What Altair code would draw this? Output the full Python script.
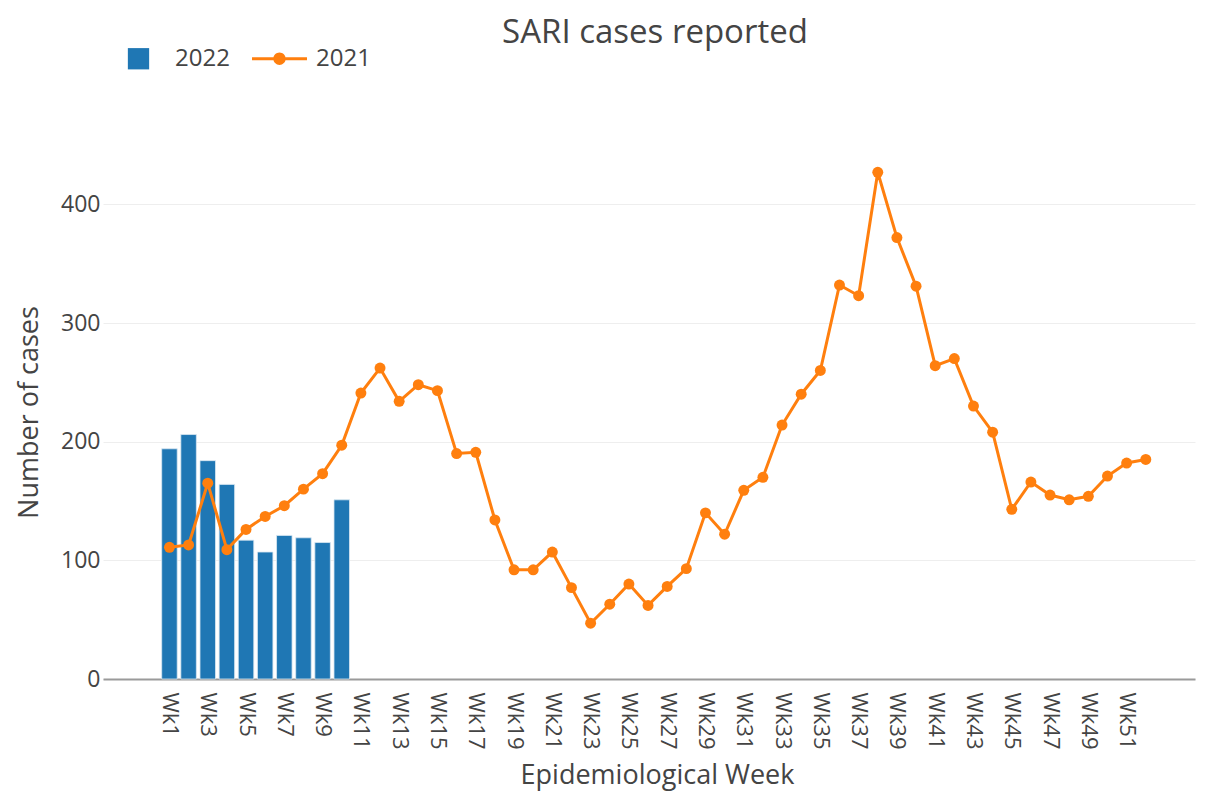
import altair as alt
import pandas as pd

# ---- data ----
weeks_2021 = list(range(1, 53))
cases_2021 = [111, 113, 165, 109, 126, 137, 146, 160, 173, 197,
              241, 262, 234, 248, 243, 190, 191, 134, 92, 92,
              107, 77, 47, 63, 80, 62, 78, 93, 140, 122,
              159, 170, 214, 240, 260, 332, 323, 427, 372, 331,
              264, 270, 230, 208, 143, 166, 155, 151, 154, 171,
              182, 185]
weeks_2022 = list(range(1, 11))
cases_2022 = [194, 206, 184, 164, 117, 107, 121, 119, 115, 151]
tick_weeks = list(range(1, 52, 2))
y_ticks = [0, 100, 200, 300, 400]
series = ["2022", "2021"]
colors = ["#1f77b4", "#ff7f0e"]

df21 = pd.DataFrame({"week": weeks_2021, "cases": cases_2021, "year": "2021"})
df22 = pd.DataFrame({"week": weeks_2022, "cases": cases_2022, "year": "2022"})
df = pd.concat([df22, df21], ignore_index=True)

FONT = "Open Sans"
TXT = "#444444"

x_scale = alt.Scale(domain=[-2.21, 54.31], nice=False, zero=False)
y_scale = alt.Scale(domain=[0, 450], nice=False)
color_scale = alt.Scale(domain=series, range=colors)

# legend glyphs: filled square, and line-with-dot built from filled pieces
SQUARE = "M-0.62,-0.62H0.62V0.62H-0.62Z"
LINEDOT = ("M-1.6,-0.09H-0.35V0.09H-1.6Z"
           "M0.35,-0.09H1.6V0.09H0.35Z"
           "M-0.36,0A0.36,0.36 0 1,1 0.36,0A0.36,0.36 0 1,1 -0.36,0Z")
shape_scale = alt.Scale(domain=series, range=[SQUARE, LINEDOT])

legend = alt.Legend(
    orient="none", legendX=18, legendY=-104, direction="horizontal",
    title=None, symbolSize=1180, labelFontSize=24, labelFont=FONT,
    labelColor=TXT, labelOffset=19, columnPadding=22,
    symbolStrokeWidth=0, symbolOpacity=1,
)

x_axis = alt.Axis(
    values=tick_weeks, labelExpr="'Wk' + datum.value", labelAngle=90,
    labelAlign="left", labelBaseline="middle", labelFontSize=22,
    labelFont=FONT, labelColor=TXT, labelPadding=13, labelOverlap=False,
    labelFlush=False, ticks=False, grid=False, domainColor="#9a9a9a",
    domainWidth=2, title="Epidemiological Week", titleFontSize=27,
    titleFont=FONT, titleFontWeight="normal", titleColor=TXT,
    titlePadding=13, titleX=554,
)
y_axis = alt.Axis(
    values=y_ticks, title="Number of cases", titleFontSize=27,
    titleFont=FONT, titleFontWeight="normal", titleColor=TXT,
    titlePadding=17, labelFontSize=23, labelFont=FONT, labelColor=TXT,
    labelPadding=3, ticks=False, domain=False, grid=True,
    gridColor="#eeeeee", gridWidth=1,
)

base = alt.Chart(df)

bars = base.transform_filter(alt.datum.year == "2022").transform_calculate(
    x0="datum.week - 0.405", x1="datum.week + 0.405"
).mark_bar(orient="vertical", stroke="#dbe8f3", strokeWidth=0.8).encode(
    x=alt.X("x0:Q", scale=x_scale, axis=x_axis),
    x2="x1:Q",
    y=alt.Y("cases:Q", scale=y_scale, axis=y_axis),
    y2=alt.datum(0),
    color=alt.Color("year:N", scale=color_scale, legend=legend),
)

line = base.transform_filter(alt.datum.year == "2021").mark_line(
    strokeWidth=3,
    point=alt.OverlayMarkDef(size=120, filled=True, opacity=1),
).encode(
    x=alt.X("week:Q", scale=x_scale),
    y=alt.Y("cases:Q", scale=y_scale),
    color=alt.Color("year:N", scale=color_scale, legend=legend),
)

# legend-only layer (draws no marks) that gives the legend its glyphs
legend_layer = base.transform_filter("false").mark_point(
    filled=True, opacity=1
).encode(
    x=alt.X("week:Q", scale=x_scale),
    y=alt.Y("cases:Q", scale=y_scale),
    color=alt.Color("year:N", scale=color_scale, legend=legend),
    shape=alt.Shape("year:N", scale=shape_scale, legend=legend),
)

chart = alt.layer(bars, line, legend_layer).properties(
    width=1092, height=534,
    padding={"left": 95, "top": 137, "right": 4, "bottom": 113},
    autosize=alt.AutoSizeParams(type="none"),
    background="white",
    title=alt.Title("SARI cases reported", fontSize=33, font=FONT,
                    fontWeight="normal", color=TXT, anchor="middle",
                    offset=-9, dx=6),
).configure_view(stroke="transparent", strokeWidth=0)

chart.save("out.html", embed_options={"renderer": "svg", "actions": False})
